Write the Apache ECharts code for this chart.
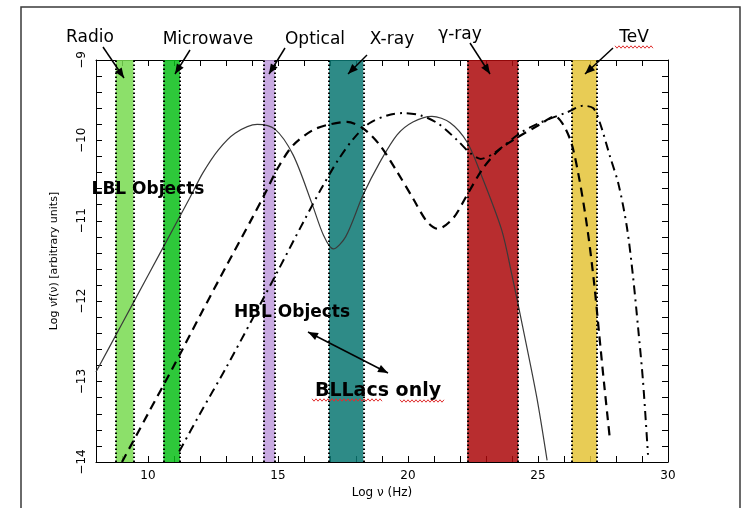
<!DOCTYPE html>
<html>
<head>
<meta charset="utf-8">
<script src="https://cdn.jsdelivr.net/npm/echarts@6/dist/echarts.min.js"></script>
<style>
  html, body { margin: 0; padding: 0; background: #fff; }
  #chart { width: 741px; height: 508px; }
</style>
</head>
<body>
<div id="chart"></div>
<script>
// Spectral bands (log10 of frequency in Hz)
const bandNames  = ['Radio', 'Microwave', 'Optical', 'X-ray', 'γ-ray', 'TeV'];
const bandStarts = [8.76, 10.59, 14.44, 16.96, 22.28, 26.30];
const bandEnds   = [9.44, 11.23, 14.88, 18.28, 24.24, 27.26];
const bandColors = [
  'rgba(120,219,80,0.85)', 'rgba(9,190,23,0.85)', 'rgba(190,155,220,0.85)',
  'rgba(9,119,114,0.85)', 'rgba(171,8,11,0.85)', 'rgba(228,195,55,0.85)'
];

// Tick labels
const xTickLabels = [10, 15, 20, 25, 30];
const yTickLabels = [-9, -10, -11, -12, -13, -14];

// SED curves: [log nu, log nu f(nu)]
const lblCurve = [
  [8.0, -12.88], [9.0, -12.28], [10.0, -11.68], [11.0, -11.08], [11.6, -10.72],
  [12.1, -10.41], [12.7, -10.12], [13.35, -9.91], [14.2, -9.80], [14.88, -9.86],
  [15.58, -10.18], [16.3, -10.78], [16.75, -11.18], [17.12, -11.35], [17.6, -11.2],
  [18.27, -10.68], [18.92, -10.27], [19.58, -9.93], [20.19, -9.77], [20.92, -9.70],
  [21.62, -9.78], [22.27, -10.02], [22.77, -10.39], [23.6, -11.11], [24.0, -11.68],
  [24.4, -12.3], [24.95, -13.19], [25.35, -13.98]
];
const hblCurve = [
  [9.0, -14.0], [10.0, -13.4], [11.0, -12.8], [12.0, -12.18], [13.0, -11.57],
  [14.0, -10.97], [14.5, -10.66], [15.0, -10.34], [15.58, -10.06], [16.35, -9.87],
  [17.0, -9.80], [17.65, -9.77], [18.27, -9.85], [18.92, -10.06], [19.58, -10.39],
  [20.19, -10.72], [20.73, -11.01], [21.15, -11.1], [21.73, -10.97], [22.27, -10.68],
  [22.88, -10.35], [23.5, -10.12], [24.23, -9.96], [25.08, -9.8], [25.65, -9.70],
  [26.0, -9.82], [26.3, -10.05], [26.6, -10.5], [26.9, -11.1], [27.15, -11.75],
  [27.35, -12.4], [27.55, -13.05], [27.77, -13.73]
];
const bllacCurve = [
  [11.2, -13.87], [12.0, -13.4], [13.0, -12.83], [14.0, -12.23], [15.0, -11.62],
  [16.0, -11.0], [16.7, -10.58], [17.3, -10.25], [17.9, -9.98], [18.5, -9.79],
  [19.2, -9.69], [19.8, -9.66], [20.5, -9.69], [21.2, -9.8], [21.9, -10.0],
  [22.4, -10.16], [22.8, -10.23], [23.3, -10.16], [24.31, -9.91], [25.08, -9.78],
  [26.12, -9.65], [26.73, -9.57], [27.13, -9.6], [27.38, -9.78], [27.77, -10.2],
  [28.1, -10.55], [28.42, -11.08], [28.65, -11.68], [28.85, -12.33], [29.04, -13.0],
  [29.23, -13.91]
];

const FONT = '"DejaVu Sans", "Noto Sans", sans-serif';
const TOP = 100;

function arrowHead(x1, y1, x2, y2, len, half) {
  const a = Math.atan2(y2 - y1, x2 - x1);
  const bx = x2 - len * Math.cos(a), by = y2 - len * Math.sin(a);
  return [[x2, y2],
          [bx + half * Math.sin(a), by - half * Math.cos(a)],
          [bx - half * Math.sin(a), by + half * Math.cos(a)]];
}
function arrow(x1, y1, x2, y2, both) {
  const els = [{
    type: 'line', silent: true, z: TOP,
    shape: { x1: x1, y1: y1, x2: x2, y2: y2 },
    style: { stroke: '#000', lineWidth: 1.5 }
  }, {
    type: 'polygon', silent: true, z: TOP,
    shape: { points: arrowHead(x1, y1, x2, y2, 10, 4) },
    style: { fill: '#000' }
  }];
  if (both) {
    els.push({
      type: 'polygon', silent: true, z: TOP,
      shape: { points: arrowHead(x2, y2, x1, y1, 10, 4) },
      style: { fill: '#000' }
    });
  }
  return els;
}
function squiggle(x1, x2, y) {
  const pts = [];
  let up = true;
  for (let x = x1; x <= x2; x += 2) { pts.push([x, y + (up ? -1.2 : 1.2)]); up = !up; }
  return {
    type: 'polyline', silent: true, z: TOP,
    shape: { points: pts },
    style: { stroke: '#e03030', lineWidth: 1, fill: null }
  };
}
function label(text, x, y, size, weight) {
  return {
    type: 'text', silent: true, x: x, y: y, z: TOP,
    style: {
      text: text, fontSize: size, fontFamily: FONT, fontWeight: weight || 'normal',
      fill: '#000', align: 'center', verticalAlign: 'middle'
    }
  };
}

const graphics = [
  {
    type: 'rect', silent: true, z: TOP,
    shape: { x: 21, y: 7, width: 719, height: 530 },
    style: { fill: null, stroke: '#3a3a3a', lineWidth: 1.5 }
  },
  label('Radio', 90, 38, 17),
  label('Microwave', 208, 40, 17),
  label('Optical', 315, 40, 17),
  label('X-ray', 392, 40, 17),
  label('γ-ray', 460, 35, 17),
  label('TeV', 634, 38, 17),
  squiggle(615, 653, 47),
  label('LBL Objects', 148, 190, 17, 'bold'),
  label('HBL Objects', 292, 313, 17, 'bold'),
  label('BLLacs only', 378, 391, 19, 'bold'),
  squiggle(312, 383, 400),
  squiggle(400, 445, 401)
].concat(
  arrow(103, 47, 124, 78),
  arrow(190, 50, 175, 74),
  arrow(285, 48, 269, 74),
  arrow(367, 55, 348, 74),
  arrow(470, 43, 490, 74),
  arrow(613, 48, 585, 74),
  arrow(308, 332, 388, 373, true)
);

const chart = echarts.init(document.getElementById('chart'));
const axisText = { color: '#000', fontFamily: FONT, fontSize: 12 };
const isInt = v => Math.abs(v - Math.round(v)) < 1e-6;
const curveBase = { type: 'line', smooth: 0.3, symbol: 'none', z: 2 };

chart.setOption({
  animation: false,
  backgroundColor: '#fff',
  grid: { left: 96, top: 60, width: 572, height: 402, containLabel: false },
  xAxis: [{
    type: 'value', position: 'bottom', min: 8, max: 30, interval: 1,
    name: 'Log ν (Hz)', nameLocation: 'middle', nameGap: 25,
    nameTextStyle: axisText,
    axisLine: { show: true, lineStyle: { color: '#000', width: 1 } },
    axisTick: { show: true, inside: true, length: 6, lineStyle: { color: '#000' } },
    axisLabel: {
      ...axisText, margin: 8,
      formatter: v => (xTickLabels.indexOf(Math.round(v)) >= 0 && isInt(v)) ? String(Math.round(v)) : ''
    },
    splitLine: { show: false }
  }, {
    type: 'value', position: 'top', min: 8, max: 30, interval: 1,
    axisLine: { show: true, lineStyle: { color: '#000', width: 1 } },
    axisTick: { show: true, inside: true, length: 6, lineStyle: { color: '#000' } },
    axisLabel: { show: false },
    splitLine: { show: false }
  }],
  yAxis: [{
    type: 'value', position: 'left', min: -14, max: -9, interval: 0.2,
    name: 'Log νf(ν) [arbitrary units]', nameLocation: 'middle', nameGap: 36, nameRotate: 90,
    nameTextStyle: { ...axisText, fontSize: 11 },
    axisLine: { show: true, lineStyle: { color: '#000', width: 1 } },
    axisTick: { show: true, inside: true, length: 6, lineStyle: { color: '#000' } },
    axisLabel: {
      ...axisText, margin: 8, rotate: 90,
      formatter: v => (isInt(v) && yTickLabels.indexOf(Math.round(v)) >= 0)
        ? '\u2212' + Math.abs(Math.round(v)) : ''
    },
    splitLine: { show: false }
  }, {
    type: 'value', position: 'right', min: -14, max: -9, interval: 0.2,
    axisLine: { show: true, lineStyle: { color: '#000', width: 1 } },
    axisTick: { show: true, inside: true, length: 6, lineStyle: { color: '#000' } },
    axisLabel: { show: false },
    splitLine: { show: false }
  }],
  series: [
    { ...curveBase, name: 'LBL', data: lblCurve,
      lineStyle: { color: '#3a3a3a', width: 1.2 } },
    { ...curveBase, name: 'HBL', data: hblCurve,
      lineStyle: { color: '#000', width: 2.2, type: [9, 6] } },
    { ...curveBase, name: 'BL Lacs', data: bllacCurve,
      lineStyle: { color: '#000', width: 2, type: [9, 5, 2, 5] } },
    {
      name: 'bands', type: 'line', data: [], z: 3, silent: true,
      markArea: {
        silent: true,
        data: bandNames.map((n, i) => [
          { name: '', xAxis: bandStarts[i], itemStyle: { color: bandColors[i] } },
          { xAxis: bandEnds[i] }
        ])
      },
      markLine: {
        silent: true, symbol: ['none', 'none'], label: { show: false },
        lineStyle: { color: '#000', width: 2, type: [1.6, 2.4] },
        data: bandStarts.concat(bandEnds).map(v => ({ xAxis: v }))
      }
    }
  ],
  graphic: graphics
});
</script>
</body>
</html>
